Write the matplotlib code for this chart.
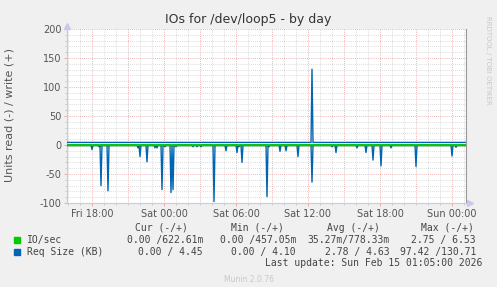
import numpy as np
import matplotlib
matplotlib.use("Agg")
import matplotlib.pyplot as plt
from matplotlib.ticker import MultipleLocator

# hours relative to Fri 18:00
x_start, x_end = -2.08, 31.17
tick_hours = [0, 6, 12, 18, 24, 30]
tick_labels = ["Fri 18:00", "Sat 00:00", "Sat 06:00", "Sat 12:00", "Sat 18:00", "Sun 00:00"]

# read request size spikes (KB, drawn negative)
read_spike_hours = [0.0, 0.58, 0.78, 1.36, 3.81, 4.03, 4.61, 5.25, 5.39, 5.81, 6.08, 6.56, 6.78,
                    7.0, 8.42, 8.72, 9.08, 10.19, 11.17, 12.06, 12.25, 12.53, 14.61, 14.75,
                    15.67, 16.14, 17.19, 18.36, 19.97, 20.33, 22.11, 22.86, 23.44, 24.11,
                    24.94, 26.97, 29.97, 30.33]
read_spike_kb = [8, 3, 70, 79, 5, 20, 29, 5, 5, 77, 3, 82, 77,
                 3, 3, 3, 3, 97.42, 10, 13, 3, 30, 89, 3,
                 11, 10, 20, 64, 3, 13, 5, 13, 26, 36,
                 5, 37, 19, 4]
write_kb_base = 4.45
write_spike_hours = [18.36]
write_spike_kb = [130.71]
io_write_base = 0.62
io_read_base = 0.0

# 5 minute samples
step = 5 / 60
t = np.arange(x_start, x_end + step, step)
read_kb = np.zeros_like(t)
for h, v in zip(read_spike_hours, read_spike_kb):
    read_kb[np.argmin(np.abs(t - h))] = -v
write_kb = np.full_like(t, write_kb_base)
for h, v in zip(write_spike_hours, write_spike_kb):
    write_kb[np.argmin(np.abs(t - h))] = v
io_write = np.full_like(t, io_write_base)
io_read = np.full_like(t, -io_read_base)

green = "#00cc00"
blue = "#0066b3"
txt = "#333333"

fig = plt.figure(figsize=(4.97, 2.87), dpi=100, facecolor="#f0f0f0")
W, H = 497, 287
ax = fig.add_axes([67 / W, 1 - 203 / H, (466 - 67) / W, (203 - 29) / H])
ax.set_facecolor("white")

# grid
for h in np.arange(-2, 32, 1):
    c = "#e8a0a0" if h % 3 == 0 else "#d0d0d0"
    ax.axvline(h, color=c, lw=0.6, ls=(0, (1, 1.5)), zorder=0)
for y in range(-100, 201, 10):
    c = "#e8a0a0" if y % 50 == 0 else "#d0d0d0"
    ax.axhline(y, color=c, lw=0.6, ls=(0, (1, 1.5)), zorder=0)

ax.plot(t, read_kb, color=blue, lw=1.0, zorder=3)
ax.plot(t, write_kb, color=blue, lw=1.0, zorder=3)
ax.axhline(0, color="black", lw=1.0, zorder=4)
ax.plot(t, io_read, color=green, lw=1.0, zorder=5)
ax.plot(t, io_write, color=green, lw=1.2, zorder=5)

ax.set_xlim(x_start, x_end)
ax.set_ylim(-100, 200)
ax.set_xticks(tick_hours)
ax.set_xticklabels(tick_labels)
ax.set_yticks(range(-100, 201, 50))
ax.set_yticklabels(["-100", "-50", "0", "50", "100", "150", "200"])
ax.xaxis.set_minor_locator(MultipleLocator(1))
ax.yaxis.set_minor_locator(MultipleLocator(10))
ax.tick_params(axis="both", which="major", labelsize=7, colors="#e8a0a0", labelcolor="#555555",
               length=2, width=0.6, pad=2)
ax.tick_params(axis="both", which="minor", colors="#bbbbbb", length=1.5, width=0.5)
ax.spines["top"].set_visible(False)
ax.spines["left"].set_color("#c8c8f0")
ax.spines["bottom"].set_color("#c8c8f0")
ax.spines["right"].set_color("#999999")
for s in ["left", "bottom", "right"]:
    ax.spines[s].set_linewidth(0.8)
ax.plot([0], [1.02], marker="^", color="#c8c8f0", ms=4, transform=ax.transAxes, clip_on=False)
ax.plot([1.01], [0], marker=">", color="#c8c8f0", ms=4, transform=ax.transAxes, clip_on=False)

ax.set_ylabel("Units read (-) / write (+)", fontsize=8, color="#555555")
ax.yaxis.set_label_coords((15 - 67) / (466 - 67), (203 - 115) / (203 - 29))
fig.text(0.5, 1 - 19 / H, "IOs for /dev/loop5 - by day", ha="center", va="center",
         fontsize=9, color=txt)
fig.text(488 / W, 1 - 60 / H, "RRDTOOL / TOBI OETIKER", rotation=270, ha="center", va="center",
         fontsize=5, color="#c8c8c8")

mono = "DejaVu Sans Mono"
fs = 7
col = "#444444"
heads = [("Cur (-/+)", 161), ("Min (-/+)", 257), ("Avg (-/+)", 353), ("Max (-/+)", 447)]
for s, xc in heads:
    fig.text(xc / W, 1 - 228 / H, s, ha="center", va="center", family=mono, fontsize=fs, color=col)

rows = [
    ("IO/sec", green, ["0.00 /622.61m", "0.00 /457.05m", "35.27m/778.33m", "2.75 / 6.53"], 240),
    ("Req Size (KB)", blue, ["0.00 / 4.45", "0.00 / 4.10", "2.78 / 4.63", "97.42 /130.71"], 252),
]
right_edges = [203, 296, 390, 476]
for name, c, vals, yy in rows:
    fig.patches.append(plt.Rectangle((14 / W, 1 - (yy + 3) / H), 6 / W, 6 / H,
                                     transform=fig.transFigure, color=c))
    fig.text(27 / W, 1 - yy / H, name, ha="left", va="center", family=mono, fontsize=fs, color=col)
    for v, xr in zip(vals, right_edges):
        fig.text(xr / W, 1 - yy / H, v, ha="right", va="center", family=mono, fontsize=fs, color=col)

fig.text(482 / W, 1 - 263 / H, "Last update: Sun Feb 15 01:05:00 2026", ha="right", va="center",
         family=mono, fontsize=fs, color=col)
fig.text(0.5, 1 - 279 / H, "Munin 2.0.76", ha="center", va="center", fontsize=5.5, color="#c8c8c8")

fig.savefig("out.png", dpi=100, facecolor=fig.get_facecolor())
